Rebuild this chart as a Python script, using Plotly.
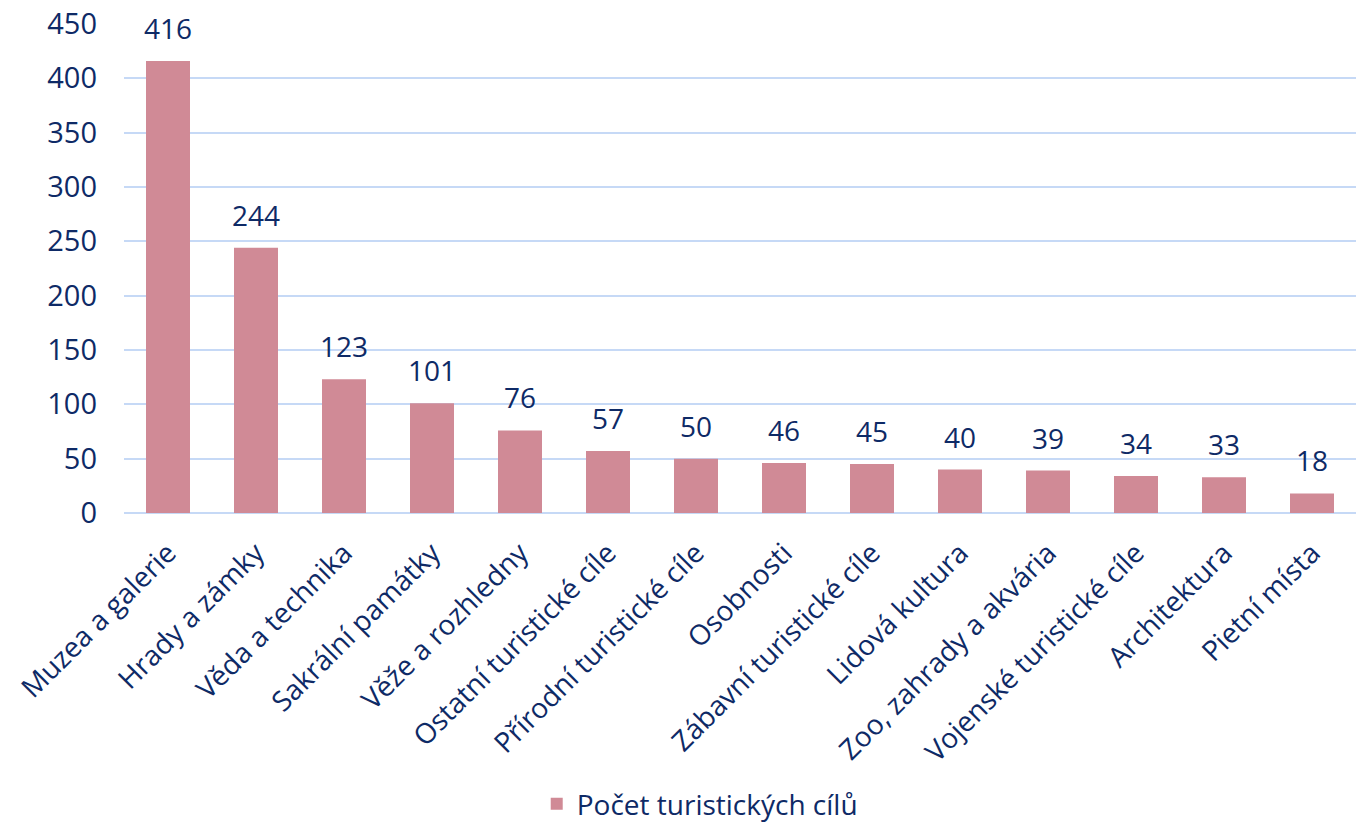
import plotly.graph_objects as go

categories = ["Muzea a galerie", "Hrady a zámky", "Věda a technika", "Sakrální památky",
              "Věže a rozhledny", "Ostatní turistické cíle", "Přírodní turistické cíle",
              "Osobnosti", "Zábavní turistické cíle", "Lidová kultura",
              "Zoo, zahrady a akvária", "Vojenské turistické cíle", "Architektura", "Pietní místa"]
values = [416, 244, 123, 101, 76, 57, 50, 46, 45, 40, 39, 34, 33, 18]
series_name = "Počet turistických cílů"
y_ticks = [0, 50, 100, 150, 200, 250, 300, 350, 400, 450]

NAVY = "#0E2A66"
BAR = "#D08A96"
GRID = "#C6D9F6"
FONT = "Open Sans"

fig = go.Figure(go.Bar(
    x=categories, y=values, name=series_name,
    marker=dict(color=BAR, line=dict(width=0)),
    showlegend=True,
))

for c, v in zip(categories, values):
    fig.add_annotation(x=c, y=v, text=str(v), showarrow=False, yanchor="bottom",
                       yshift=12, font=dict(size=28, color=NAVY, family=FONT))

fig.update_layout(
    width=1356, height=829,
    margin=dict(l=124, r=0, t=24, b=316),
    paper_bgcolor="white", plot_bgcolor="white",
    font=dict(family=FONT, color=NAVY, size=28),
    bargap=0.5,
    showlegend=True,
    legend=dict(orientation="h", x=0.335, xanchor="left",
                yref="container", y=0.0, yanchor="bottom",
                font=dict(size=28, color=NAVY, family=FONT)),
    xaxis=dict(tickangle=-45, tickfont=dict(size=28, color=NAVY), showgrid=False,
               showline=False, ticks="", automargin=False, ticklabelstandoff=17),
    yaxis=dict(range=[0, 450], tickvals=y_ticks, showgrid=True, gridcolor=GRID, gridwidth=1.5,
               zeroline=True, zerolinecolor=GRID, zerolinewidth=1.5, automargin=False,
               tickfont=dict(size=29, color=NAVY), ticklabelstandoff=26, showline=False),
)

fig.write_html("out.html", config={"displayModeBar": False},
               post_script="document.body.style.margin='0';document.body.style.overflow='hidden';")
